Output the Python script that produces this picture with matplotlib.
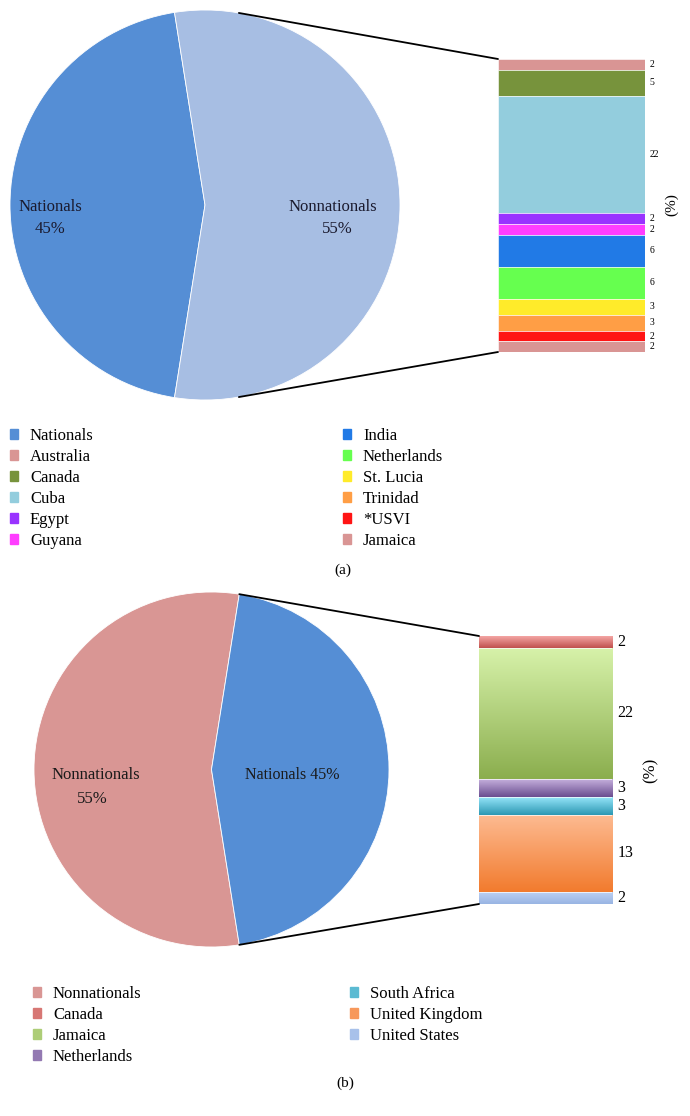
import matplotlib
matplotlib.use("Agg")
import matplotlib.pyplot as plt
import numpy as np
from matplotlib.patches import Patch, ConnectionPatch
from matplotlib.colors import to_rgb

plt.rcParams['font.family'] = ['Liberation Serif', 'DejaVu Serif']

# ---------------- data (a) ----------------
pie_a_labels = ["Nationals", "Nonnationals"]
pie_a_values = [45, 55]
pie_a_colors = ["#558ED5", "#A7BEE3"]

bar_a_labels = ["Australia", "Canada", "Cuba", "Egypt", "Guyana", "India",
                "Netherlands", "St. Lucia", "Trinidad", "*USVI", "Jamaica"]
bar_a_values = [2, 5, 22, 2, 2, 6, 6, 3, 3, 2, 2]
bar_a_colors = ["#D99594", "#77933C", "#93CDDD", "#9933FF", "#FF3DFF", "#217AE6",
                "#66FF4F", "#FFEB2A", "#FF9E45", "#FF1414", "#D99594"]

# ---------------- data (b) ----------------
pie_b_labels = ["Nonnationals", "Nationals"]
pie_b_values = [55, 45]
pie_b_colors = ["#D99694", "#558ED5"]

bar_b_labels = ["Canada", "Jamaica", "Netherlands", "South Africa",
                "United Kingdom", "United States"]
bar_b_values = [2, 22, 3, 3, 13, 2]
bar_b_top = ["#F4A6A4", "#D7F2AA", "#C4AFDC", "#95E4F8", "#FDBB92", "#BCD0F2"]
bar_b_bot = ["#C0504D", "#8BAE4E", "#6B4D90", "#2B98B3", "#F27B2E", "#98B4E3"]

W, H = 690, 1116
fig = plt.figure(figsize=(W / 100, H / 100), dpi=100)


def ax_px(x0, y0, x1, y1):
    return fig.add_axes([x0 / W, 1 - y1 / H, (x1 - x0) / W, (y1 - y0) / H])


def mix(c1, c2, t):
    a, b = np.array(to_rgb(c1)), np.array(to_rgb(c2))
    return a * (1 - t) + b * t


TXT = '#1a1a2e'

# ================= (a) =================
axp = ax_px(10, 10, 400, 400)
axp.pie(pie_a_values, colors=pie_a_colors, startangle=99, counterclock=True,
        wedgeprops=dict(linewidth=0.6, edgecolor='white'))
axp.set_xlim(-1, 1); axp.set_ylim(-1, 1); axp.set_aspect('equal'); axp.axis('off')
axp.text(-0.795, -0.01, pie_a_labels[0], ha='center', va='center', fontsize=12, color=TXT)
axp.text(-0.795, -0.123, f"{pie_a_values[0]}%", ha='center', va='center', fontsize=12, color=TXT)
axp.text(0.656, -0.01, pie_a_labels[1], ha='center', va='center', fontsize=12, color=TXT)
axp.text(0.677, -0.125, f"{pie_a_values[1]}%", ha='center', va='center', fontsize=12, color=TXT)

axb = ax_px(498, 59, 645, 352)
total_a = sum(bar_a_values)
bottom = total_a
for lab, v, c in zip(bar_a_labels, bar_a_values, bar_a_colors):
    bottom -= v
    axb.bar(0.5, v, width=1.0, bottom=bottom, color=c, edgecolor='white', linewidth=0.4)
    axb.text(1.03, bottom + v / 2, str(v), ha='left', va='center', fontsize=7)
axb.set_xlim(0, 1); axb.set_ylim(0, total_a); axb.axis('off')
fig.text(672 / W, 1 - 205 / H, "(%)", rotation=90, ha='center', va='center', fontsize=11)

ang = np.deg2rad(80)
for sgn, yb in ((1, total_a), (-1, 0)):
    con = ConnectionPatch(xyA=(np.cos(ang), sgn * np.sin(ang)), coordsA=axp.transData,
                          xyB=(0, yb), coordsB=axb.transData, color='black', linewidth=1.3)
    fig.add_artist(con)

leg_a1 = [Patch(color=pie_a_colors[0], label=pie_a_labels[0])] + \
         [Patch(color=c, label=l) for l, c in zip(bar_a_labels[:5], bar_a_colors[:5])]
leg_a2 = [Patch(color=c, label=l) for l, c in zip(bar_a_labels[5:], bar_a_colors[5:])]
common = dict(frameon=False, fontsize=12, handlelength=0.5, handleheight=0.5,
              handletextpad=0.7, labelspacing=0.3, borderpad=0, borderaxespad=0,
              loc='upper left')
fig.legend(handles=leg_a1, bbox_to_anchor=(10 / W, 1 - 428 / H), **common)
fig.legend(handles=leg_a2, bbox_to_anchor=(343 / W, 1 - 428 / H), **common)
fig.text(343 / W, 1 - 570 / H, "(a)", ha='center', va='center', fontsize=11)

# ================= (b) =================
axp2 = ax_px(33, 592, 390, 947)
axp2.pie(pie_b_values, colors=pie_b_colors, startangle=81, counterclock=True,
         wedgeprops=dict(linewidth=0.6, edgecolor='white'))
axp2.set_xlim(-1, 1); axp2.set_ylim(-1, 1); axp2.set_aspect('equal'); axp2.axis('off')
axp2.text(-0.653, -0.03, pie_b_labels[0], ha='center', va='center', fontsize=12, color='#1a1a1a')
axp2.text(-0.67, -0.165, f"{pie_b_values[0]}%", ha='center', va='center', fontsize=12, color='#1a1a1a')
axp2.text(0.457, -0.03, f"{pie_b_labels[1]} {pie_b_values[1]}%", ha='center', va='center',
          fontsize=11.5, color='#1a1a1a')

axb2 = ax_px(479, 636, 612, 904)
total_b = sum(bar_b_values)
bottom = total_b
for lab, v, ct, cb in zip(bar_b_labels, bar_b_values, bar_b_top, bar_b_bot):
    bottom -= v
    bars = axb2.bar(0.5, v, width=1.0, bottom=bottom, color=ct, edgecolor='none')
    p = bars.patches[0]
    grad = np.array([mix(ct, cb, t) for t in np.linspace(0, 1, 64)])[:, None, :]
    im = axb2.imshow(grad, extent=(0, 1, bottom, bottom + v), origin='upper', aspect='auto',
                     interpolation='bilinear', zorder=2)
    im.set_clip_path(p)
    axb2.axhline(bottom, color='white', linewidth=0.5, zorder=3)
    axb2.text(1.04, bottom + v / 2, str(v), ha='left', va='center', fontsize=11.5)
axb2.set_xlim(0, 1); axb2.set_ylim(0, total_b); axb2.axis('off')
fig.text(651 / W, 1 - 770 / H, "(%)", rotation=90, ha='center', va='center', fontsize=12)

ang2 = np.deg2rad(81)
for sgn, yb in ((1, total_b), (-1, 0)):
    con = ConnectionPatch(xyA=(np.cos(ang2), sgn * np.sin(ang2)), coordsA=axp2.transData,
                          xyB=(0, yb), coordsB=axb2.transData, color='black', linewidth=1.3)
    fig.add_artist(con)

mid_b = [tuple(mix(t, b, 0.55)) for t, b in zip(bar_b_top, bar_b_bot)]
leg_b1 = [Patch(color=pie_b_colors[0], label=pie_b_labels[0])] + \
         [Patch(color=c, label=l) for l, c in zip(bar_b_labels[:3], mid_b[:3])]
leg_b2 = [Patch(color=c, label=l) for l, c in zip(bar_b_labels[3:], mid_b[3:])]
fig.legend(handles=leg_b1, bbox_to_anchor=(33 / W, 1 - 986 / H), **common)
fig.legend(handles=leg_b2, bbox_to_anchor=(350 / W, 1 - 986 / H), **common)
fig.text(345 / W, 1 - 1083 / H, "(b)", ha='center', va='center', fontsize=11)

fig.savefig("out.png", dpi=100)
